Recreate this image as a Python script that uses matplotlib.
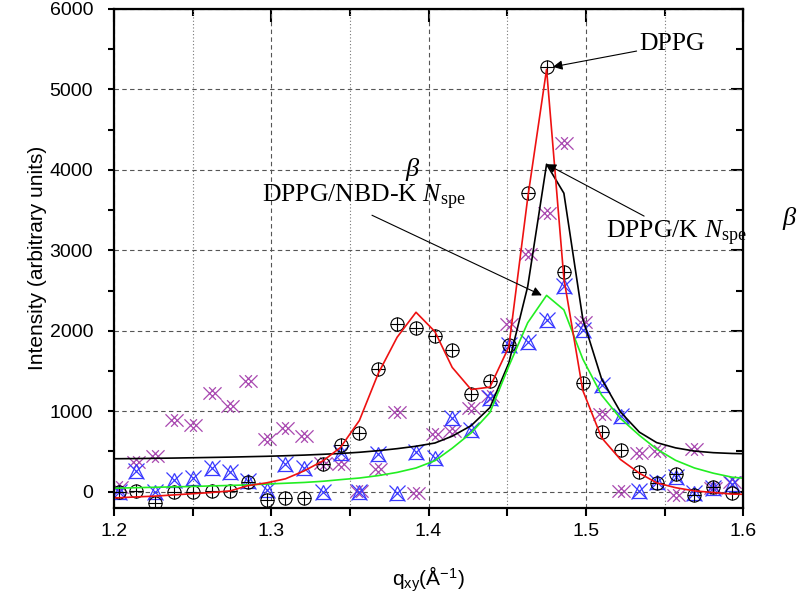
import matplotlib
matplotlib.use('Agg')
import matplotlib.pyplot as plt
import numpy as np
from matplotlib.path import Path
from matplotlib.ticker import MultipleLocator

plt.rcParams['font.family'] = ['Liberation Sans', 'DejaVu Sans']
plt.rcParams['mathtext.fontset'] = 'custom'
plt.rcParams['mathtext.rm'] = 'Liberation Serif'
plt.rcParams['mathtext.it'] = 'Liberation Serif:italic'

# q_xy positions (1/A)
q = [1.203, 1.214, 1.226, 1.238, 1.250, 1.262, 1.274, 1.285, 1.297, 1.309,
     1.321, 1.333, 1.344, 1.356, 1.368, 1.380, 1.392, 1.404, 1.415, 1.427,
     1.439, 1.451, 1.463, 1.475, 1.486, 1.498, 1.510, 1.522, 1.534, 1.545,
     1.557, 1.569, 1.581, 1.593]

# measured points
dppg = [0, 10, -140, 0, 0, 10, 10, 125, -100, -75,
        -75, 340, 585, 735, 1520, 2090, 2030, 1940, 1760, 1210,
        1370, 1820, 3710, 5280, 2730, 1345, 740, 520, 250, 110,
        225, -40, 60, -10]
dppg_k = [0, 260, 0, 140, 175, 300, 250, 130, 20, 350,
          290, 0, 485, 0, 470, -10, 490, 420, 915, 770,
          1170, 1820, 1860, 2130, 2560, 2010, 1320, 945, 10, 120,
          185, -10, 45, 100]
dppg_nbd = [60, 370, 440, 885, 830, 1225, 1065, 1380, 650, 790,
            690, 360, 340, 10, 285, 985, -10, 715, 750, 1045,
            1195, 2090, 2960, 3460, 4330, 2110, 970, 10, 485, 510,
            -40, 530, 50, 120]

# fitted curves (evaluated on the data grid plus both axis ends)
q_fit = [1.200] + q + [1.600]
fit_dppg = [-75, -75, -65, -55, -40, -25, -10, 10, 75, 110, 160,
            260, 385, 550, 885, 1470, 1920, 2230, 1990, 1545, 1270,
            1300, 1800, 3650, 5250, 2650, 1260, 670, 400, 230, 110,
            50, 10, -10, -30, -32]
fit_k = [410, 410, 412, 415, 418, 422, 426, 430, 435, 440, 447,
         455, 465, 475, 490, 510, 535, 565, 605, 690, 820,
         1045, 1600, 2550, 4070, 3710, 2150, 1400, 990, 740, 610,
         545, 505, 485, 475, 472]
fit_nbd = [44, 45, 50, 55, 60, 65, 72, 78, 85, 95, 105,
           115, 130, 150, 170, 200, 240, 295, 385, 540, 730,
           985, 1560, 2100, 2440, 2260, 1650, 1200, 910, 700, 530,
           390, 295, 230, 180, 168]

# double cross marker
s = 0.45
verts = [(-1 - s, -1), (1 - s, 1), (-1 - s, 1), (1 - s, -1),
         (-1 + s, -1), (1 + s, 1), (-1 + s, 1), (1 + s, -1)]
codes = [Path.MOVETO, Path.LINETO] * 4
dblx = Path(verts, codes)

fig = plt.figure(figsize=(8, 5.96), dpi=100)
ax = fig.add_axes([0.1425, 0.148, 0.7865, 0.837])

purple = '#a848b0'
blue = '#3a3aff'
ax.plot(q, dppg_nbd, linestyle='none', marker=dblx, ms=13, mew=0.9,
        mfc='none', mec=purple)
ax.plot(q, dppg_k, linestyle='none', marker='^', ms=10, mew=0.9,
        mfc='none', mec=blue)
ax.plot(q, dppg_k, linestyle='none', marker='x', ms=11, mew=0.9, mec=blue)
ax.plot(q, dppg, linestyle='none', marker='o', ms=9.5, mew=0.8,
        mfc='none', mec='black')
ax.plot(q, dppg, linestyle='none', marker='+', ms=9.5, mew=0.8, mec='black')

ax.plot(q_fit, fit_k, color='black', lw=1.2)
ax.plot(q_fit, fit_nbd, color='#22ee22', lw=1.2)
ax.plot(q_fit, fit_dppg, color='#ee1111', lw=1.2)

ax.set_xlim(1.2, 1.6)
ax.set_ylim(-200, 6000)
ax.xaxis.set_major_locator(MultipleLocator(0.1))
ax.xaxis.set_minor_locator(MultipleLocator(0.05))
ax.yaxis.set_major_locator(MultipleLocator(1000))
ax.yaxis.set_minor_locator(MultipleLocator(500))
ax.set_xticks([1.2, 1.3, 1.4, 1.5, 1.6])
ax.set_xticklabels(['1.2', '1.3', '1.4', '1.5', '1.6'])

ax.grid(which='major', linestyle=(0, (4, 3)), color='#555555', lw=0.8)
ax.grid(which='minor', axis='x', linestyle=(0, (1, 2)), color='#777777', lw=0.8)

ax.tick_params(which='both', direction='out', labelsize=14, width=1.5)
ax.tick_params(axis='x', which='both', length=6, pad=5)
ax.tick_params(axis='y', which='both', length=4, pad=11)
for sp in ax.spines.values():
    sp.set_linewidth(1.6)

top = ax.secondary_xaxis('top')
top.xaxis.set_major_locator(MultipleLocator(0.1))
top.xaxis.set_minor_locator(MultipleLocator(0.05))
top.tick_params(which='both', direction='in', labeltop=False, width=1.5)
top.tick_params(which='major', length=9)
top.tick_params(which='minor', length=5)
right = ax.secondary_yaxis('right')
right.yaxis.set_major_locator(MultipleLocator(1000))
right.yaxis.set_minor_locator(MultipleLocator(500))
right.tick_params(which='both', direction='in', labelright=False, width=1.5)
right.tick_params(which='major', length=9)
right.tick_params(which='minor', length=5)

ax.set_ylabel('Intensity (arbitrary units)', fontsize=15, labelpad=2)
ax.set_xlabel(r'q$_{\mathregular{xy}}$(Å$^{\mathregular{-1}}$)', fontsize=15, labelpad=18)

serif = ['Liberation Serif', 'DejaVu Serif']
arrow = dict(arrowstyle='-|>', color='black', lw=0.8, mutation_scale=14,
             shrinkA=0, shrinkB=0)
ax.annotate('DPPG', xy=(q[23] + 0.004, dppg[23]), xytext=(1.534, 5560),
            fontsize=18.5, family=serif, va='center', arrowprops=arrow)
ax.annotate(r'DPPG/K $N_{\mathrm{spe}}$', xy=(q[23], fit_k[24]),
            xytext=(1.513, 3210), fontsize=18.5, family=serif, va='center',
            arrowprops=arrow)
ax.text(1.294, 3660, r'DPPG/NBD-K $N_{\mathrm{spe}}$', fontsize=18.5,
        family=serif, va='center')
ax.annotate('', xy=(q[23] - 0.003, fit_nbd[24]), xytext=(1.364, 3436),
            arrowprops=arrow)
ax.text(1.385, 4000, 'β', fontsize=19, style='italic', family=serif,
        va='center')
ax.text(1.625, 3400, 'β', fontsize=19, style='italic', family=serif,
        va='center', clip_on=False)

fig.savefig('out.png', dpi=100)
